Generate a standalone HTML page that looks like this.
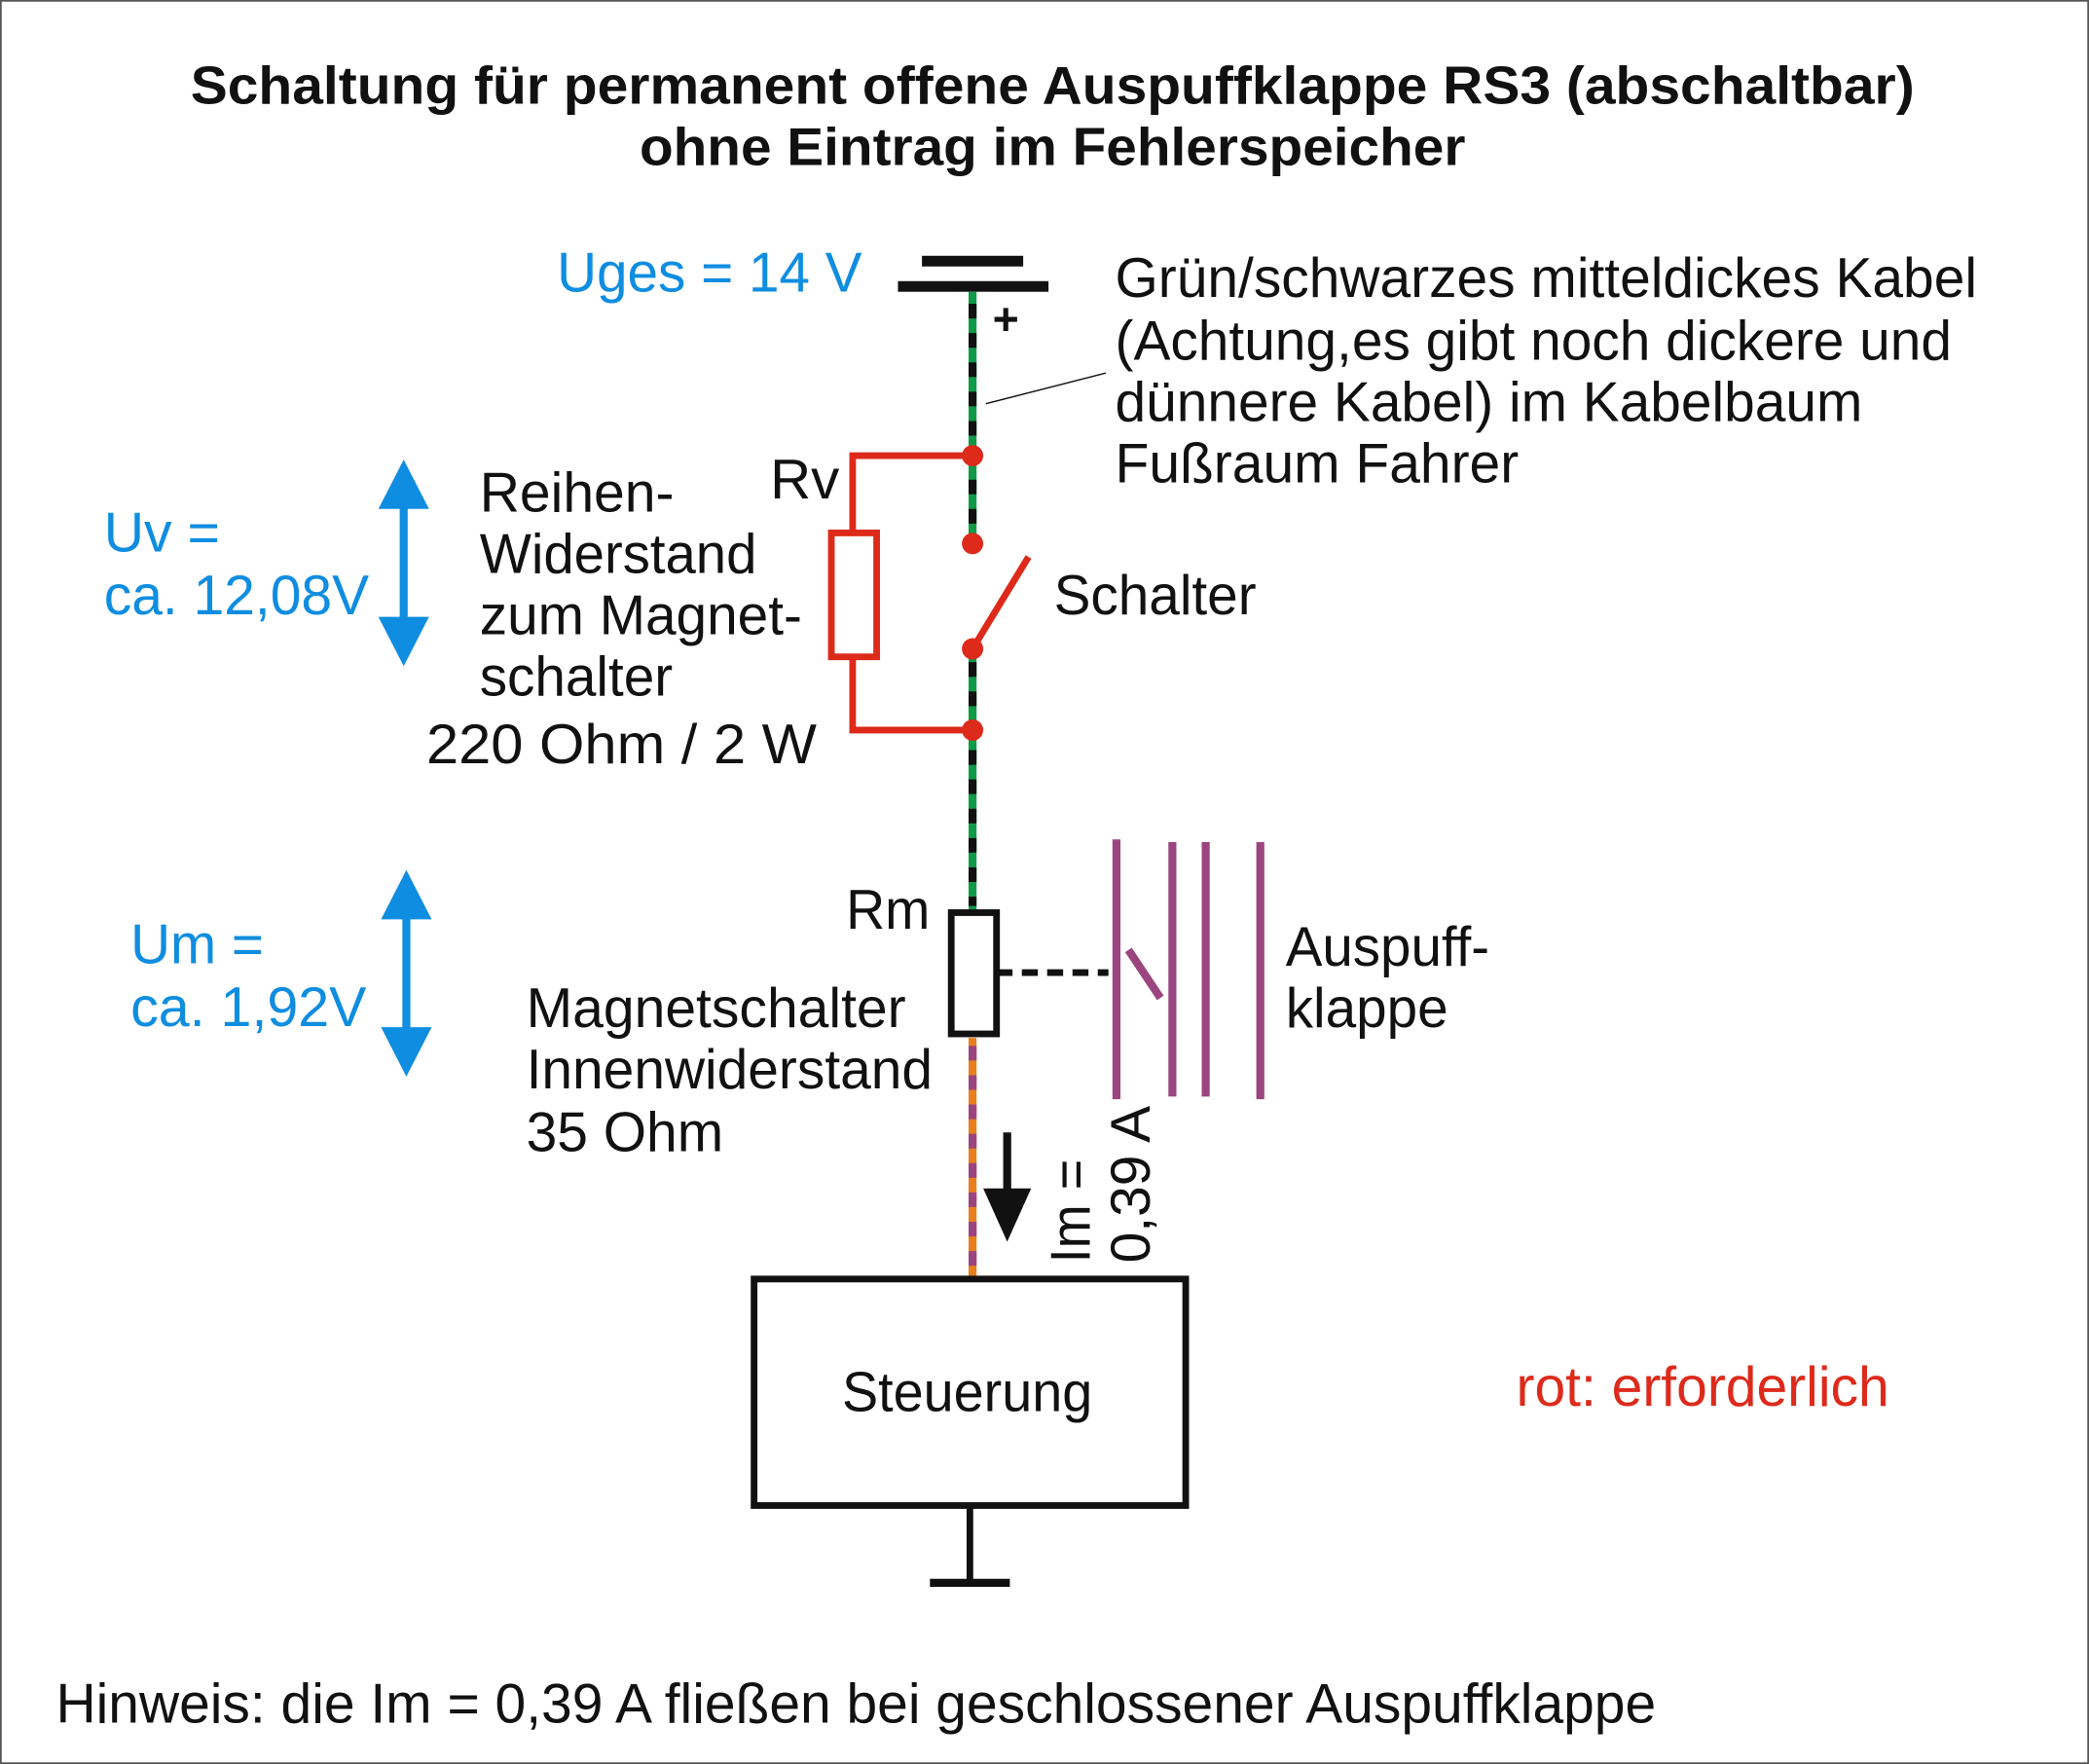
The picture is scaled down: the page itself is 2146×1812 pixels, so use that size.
<!DOCTYPE html>
<html><head><meta charset="utf-8"><style>html,body{margin:0;padding:0;background:#fff}svg{display:block}text{font-family:"Liberation Sans",Arial,sans-serif}</style></head>
<body>
<svg width="2146" height="1812" viewBox="0 0 1568 1324" xmlns="http://www.w3.org/2000/svg">
<rect x="0.5" y="0.5" width="1567" height="1323" fill="#fff" stroke="#555" stroke-width="1.5"/>
<g font-weight="bold" font-size="40" fill="#111" lengthAdjust="spacingAndGlyphs">
<text x="143" y="78" textLength="1294" lengthAdjust="spacingAndGlyphs">Schaltung für permanent offene Auspuffklappe RS3 (abschaltbar)</text>
<text x="480" y="124" textLength="620" lengthAdjust="spacingAndGlyphs">ohne Eintrag im Fehlerspeicher</text>
</g>
<!-- battery -->
<rect x="692" y="192" width="76" height="8" fill="#111"/>
<rect x="674" y="211" width="113" height="8" fill="#111"/>
<text x="745" y="251" font-size="34" font-weight="bold" fill="#111">+</text>
<!-- wires -->
<g stroke-width="6">
<line x1="730" y1="219" x2="730" y2="405" stroke="#0f9a45"/>
<line x1="730" y1="228" x2="730" y2="405" stroke="#111" stroke-dasharray="11 11"/>
<line x1="730" y1="490" x2="730" y2="685" stroke="#0f9a45"/>
<line x1="730" y1="497" x2="730" y2="680" stroke="#111" stroke-dasharray="11 11"/>
<line x1="730" y1="779" x2="730" y2="958" stroke="#e87f1e"/>
<line x1="730" y1="785" x2="730" y2="958" stroke="#9b4580" stroke-dasharray="11 11"/>
</g>
<line x1="740" y1="303" x2="830" y2="280" stroke="#111" stroke-width="1"/>
<!-- red parts -->
<g stroke="#dd2a1b" stroke-width="5" fill="none">
<polyline points="730,342 640,342 640,400"/>
<rect x="624" y="400" width="34" height="93"/>
<polyline points="640,493 640,548 730,548"/>
<line x1="730" y1="487" x2="772" y2="418"/>
</g>
<g fill="#dd2a1b">
<circle cx="730" cy="342" r="8"/><circle cx="730" cy="408" r="8"/><circle cx="730" cy="487" r="8"/><circle cx="730" cy="548" r="8"/>
</g>
<!-- Rm -->
<rect x="714" y="685" width="34" height="91" fill="#fff" stroke="#111" stroke-width="5"/>
<line x1="748" y1="730" x2="832" y2="730" stroke="#111" stroke-width="5" stroke-dasharray="12 7"/>
<g stroke="#9b4580" stroke-width="6">
<line x1="838" y1="630" x2="838" y2="825"/>
<line x1="880" y1="632" x2="880" y2="823"/>
<line x1="905" y1="632" x2="905" y2="823"/>
<line x1="946" y1="632" x2="946" y2="825"/>
<line x1="847" y1="713" x2="871" y2="749"/>
</g>
<!-- current arrow -->
<line x1="756" y1="850" x2="756" y2="898" stroke="#111" stroke-width="6"/>
<polygon points="738,892 774,892 756,932" fill="#111"/>
<g font-size="42" fill="#111">
<text transform="translate(818,948) rotate(-90)" textLength="78" lengthAdjust="spacingAndGlyphs">Im =</text>
<text transform="translate(863,948) rotate(-90)" textLength="118" lengthAdjust="spacingAndGlyphs">0,39 A</text>
</g>
<!-- Steuerung -->
<rect x="566" y="960" width="324" height="170" fill="#fff" stroke="#111" stroke-width="5"/>
<text x="632" y="1059" font-size="42" fill="#111" textLength="188" lengthAdjust="spacingAndGlyphs">Steuerung</text>
<line x1="728" y1="1130" x2="728" y2="1188" stroke="#111" stroke-width="5"/>
<line x1="698" y1="1188" x2="758" y2="1188" stroke="#111" stroke-width="6"/>
<!-- blue arrows -->
<g fill="#0f8de0">
<rect x="300" y="375" width="6" height="95"/>
<polygon points="303,345 284,382 322,382"/><polygon points="303,500 284,463 322,463"/>
<rect x="302" y="683" width="6" height="95"/>
<polygon points="305,653 286,690 324,690"/><polygon points="305,808 286,771 324,771"/>
</g>
<g font-size="42" fill="#0f8de0">
<text x="418" y="219" textLength="229" lengthAdjust="spacingAndGlyphs">Uges = 14 V</text>
<text x="78" y="414" textLength="87" lengthAdjust="spacingAndGlyphs">Uv =</text>
<text x="78" y="461" textLength="199" lengthAdjust="spacingAndGlyphs">ca. 12,08V</text>
<text x="98" y="723" textLength="100" lengthAdjust="spacingAndGlyphs">Um =</text>
<text x="98" y="770" textLength="177" lengthAdjust="spacingAndGlyphs">ca. 1,92V</text>
</g>
<g font-size="42" fill="#111">
<text x="837" y="223" textLength="647" lengthAdjust="spacingAndGlyphs">Grün/schwarzes mitteldickes Kabel</text>
<text x="837" y="270" textLength="628" lengthAdjust="spacingAndGlyphs">(Achtung,es gibt noch dickere und</text>
<text x="837" y="316" textLength="561" lengthAdjust="spacingAndGlyphs">dünnere Kabel) im Kabelbaum</text>
<text x="837" y="362" textLength="303" lengthAdjust="spacingAndGlyphs">Fußraum Fahrer</text>
<text x="578" y="374" textLength="52" lengthAdjust="spacingAndGlyphs">Rv</text>
<text x="360" y="384" textLength="146" lengthAdjust="spacingAndGlyphs">Reihen-</text>
<text x="360" y="430" textLength="208" lengthAdjust="spacingAndGlyphs">Widerstand</text>
<text x="360" y="476" textLength="242" lengthAdjust="spacingAndGlyphs">zum Magnet-</text>
<text x="360" y="522" textLength="145" lengthAdjust="spacingAndGlyphs">schalter</text>
<text x="320" y="573" textLength="293" lengthAdjust="spacingAndGlyphs">220 Ohm /  2 W</text>
<text x="791" y="461" textLength="152" lengthAdjust="spacingAndGlyphs">Schalter</text>
<text x="635" y="697" textLength="63" lengthAdjust="spacingAndGlyphs">Rm</text>
<text x="965" y="725" textLength="153" lengthAdjust="spacingAndGlyphs">Auspuff-</text>
<text x="965" y="771" textLength="122" lengthAdjust="spacingAndGlyphs">klappe</text>
<text x="395" y="771" textLength="285" lengthAdjust="spacingAndGlyphs">Magnetschalter</text>
<text x="395" y="817" textLength="305" lengthAdjust="spacingAndGlyphs">Innenwiderstand</text>
<text x="395" y="864" textLength="148" lengthAdjust="spacingAndGlyphs">35 Ohm</text>
<text x="42" y="1293" textLength="1201" lengthAdjust="spacingAndGlyphs">Hinweis: die Im = 0,39 A fließen bei geschlossener Auspuffklappe</text>
</g>
<text x="1138" y="1055" font-size="42" fill="#dd2a1b" textLength="280" lengthAdjust="spacingAndGlyphs">rot: erforderlich</text>
</svg>
</body></html>
